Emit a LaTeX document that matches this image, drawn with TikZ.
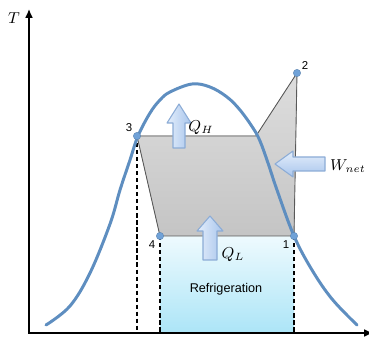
\documentclass[tikz,border=0pt]{standalone}
\usepackage{fontspec}
\setsansfont{Liberation Sans}
\usetikzlibrary{arrows.meta,positioning}
\definecolor{dome-blue}{RGB}{94,142,192}
\definecolor{point-blue}{RGB}{112,162,216}
\definecolor{arrow-edge}{RGB}{140,172,214}
\definecolor{arrow-light}{RGB}{228,238,251}
\definecolor{arrow-dark}{RGB}{168,197,236}
\definecolor{cold-top}{RGB}{238,250,254}
\definecolor{cold-bottom}{RGB}{172,229,247}
\tikzset{
  cycle-area/.style={top color=black!13, bottom color=black!23},
  cold-area/.style={top color=cold-top, bottom color=cold-bottom},
  cycle-line/.style={draw=black!65, line width=0.5pt},
  drop-line/.style={draw=black, dash pattern=on 2.4pt off 1.6pt, line width=0.9pt},
  dome/.style={draw=dome-blue, line width=1.7pt, line cap=round},
  state-point/.style={circle, fill=point-blue, draw=point-blue!80!black, line width=0.2pt,
    inner sep=0pt, minimum size=4.2pt},
  state-label/.style={font=\sffamily\fontsize{6.5}{7}\selectfont, inner sep=1pt},
  heat-arrow/.style={draw=arrow-edge, left color=arrow-light, right color=arrow-dark,
    line width=0.6pt, line join=round},
  axis-line/.style={{Latex[length=5pt,width=4.5pt]}-{Latex[length=5pt,width=4.5pt]}, line width=0.9pt}
}

\begin{document}
\begin{tikzpicture}[x=0.02cm, y=-0.02cm]
  \useasboundingbox (0,0) rectangle (369,354);

  % state points of the cycle
  \coordinate (s1) at (294,236);
  \coordinate (s2) at (297,73);
  \coordinate (s3) at (137,136);
  \coordinate (s4) at (160,236);
  \coordinate (sat-v) at (256,136);
  \coordinate (origin) at (29,333);
  \coordinate (t-end) at (29,9);
  \coordinate (s-end) at (373,333);

  % areas
  \fill[cold-area] (s4) rectangle (s1 |- origin);
  \fill[cycle-area] (s3) -- (sat-v) -- (s2) -- (s1) -- (s4) -- cycle;
  \draw[cycle-line] (s3) -- (sat-v) -- (s2) -- (s1) -- (s4) -- cycle;

  % drops to the s axis
  \draw[drop-line] (s3) -- (s3 |- origin);
  \draw[drop-line] (s4) -- (s4 |- origin);
  \draw[drop-line] (s1) -- (s1 |- origin);

  \draw[axis-line] (s-end) -- (origin) -- (t-end);
  \node[font=\small] (t-label) at (14,18) {$T$};

  % saturation dome
  \draw[dome] plot[smooth, tension=0.6] coordinates {
    (46,325) (70,306) (90,273) (110,224) (120,190) (130,160) (138,136) (150,113)
    (160,100) (170,92) (192,84) (210,87) (227,97) (240,110) (253,128) (260,141)
    (268,163) (277,190) (294,236) (312,270) (332,299) (357,325)};

  % heat and work arrows
  \draw[heat-arrow] (173,148) -- (173,123) -- (167,123) -- (179,104) -- (191,123)
    -- (185,123) -- (185,148) -- cycle;
  \draw[heat-arrow] (203,260) -- (203,231) -- (197,231) -- (210,216) -- (223,231)
    -- (217,231) -- (217,260) -- cycle;
  \draw[heat-arrow, top color=arrow-light, bottom color=arrow-dark]
    (325,157) -- (293,157) -- (293,151) -- (275,164) -- (293,177) -- (293,171)
    -- (325,171) -- cycle;

  \node[font=\small] (qh-label) at (201,128) {$Q_H$};
  \node[font=\small] (ql-label) at (233,255) {$Q_L$};
  \node[font=\small] (w-label) at (348,166) {$W_{net}$};

  \node[state-point] (p1) at (s1) {};
  \node[state-point] (p2) at (s2) {};
  \node[state-point] (p3) at (s3) {};
  \node[state-point] (p4) at (s4) {};
  \node[state-label, below left=0pt and 0pt of p1] (n1) {1};
  \node[state-label, above right=-1pt and 0pt of p2] (n2) {2};
  \node[state-label, above left=0pt and 0pt of p3] (n3) {3};
  \node[state-label, below left=0pt and 0pt of p4] (n4) {4};

  \node[font=\sffamily\fontsize{7.2}{8}\selectfont] (refrig) at (226,289) {Refrigeration};
\end{tikzpicture}
\end{document}
